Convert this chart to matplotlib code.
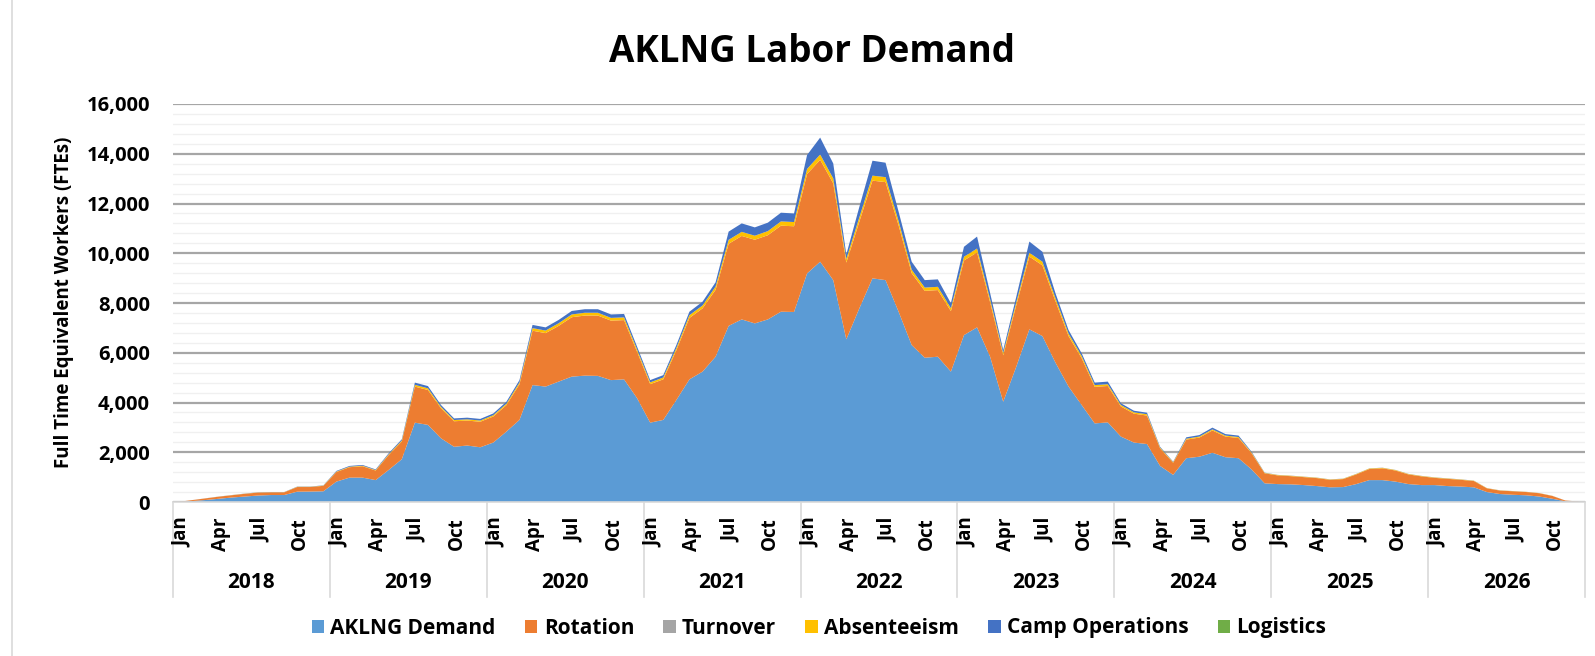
import numpy as np
import matplotlib
matplotlib.use("Agg")
import matplotlib.pyplot as plt
from matplotlib.patches import Patch
import matplotlib.transforms as mtransforms

years = ["2018", "2019", "2020", "2021", "2022", "2023", "2024", "2025", "2026"]
months = ["Jan", "Feb", "Mar", "Apr", "May", "Jun", "Jul", "Aug", "Sep", "Oct", "Nov", "Dec"]
shown_months = ["Jan", "Apr", "Jul", "Oct"]

aklng_demand = [
    5, 40, 80, 130, 180, 220, 260, 280, 280, 415, 420, 430,
    820, 980, 980, 880, 1290, 1720, 3190, 3100, 2560, 2220, 2270, 2200,
    2390, 2830, 3300, 4700, 4640, 4840, 5040, 5080, 5070, 4900, 4930, 4170,
    3190, 3300, 4100, 4930, 5240, 5840, 7080, 7340, 7180, 7340, 7650, 7640,
    9190, 9660, 8920, 6540, 7790, 8990, 8920, 7650, 6310, 5800, 5840, 5240,
    6710, 7020, 5840, 4030, 5440, 6940, 6670, 5600, 4640, 3900, 3160, 3200,
    2630, 2390, 2330, 1450, 1090, 1760, 1820, 1980, 1800, 1760, 1310, 750,
    720, 710, 680, 640, 590, 600, 720, 880, 880, 820, 720, 680,
    680, 640, 620, 590, 400, 320, 290, 270, 220, 130, 30, 10,
]
rotation = [
    5, 38, 66, 84, 92, 110, 118, 108, 108, 187, 182, 220,
    387, 419, 458, 385, 601, 713, 1450, 1402, 1208, 1026, 1004, 1026,
    1048, 1063, 1433, 2186, 2149, 2240, 2388, 2415, 2425, 2392, 2382, 1864,
    1548, 1630, 2000, 2468, 2542, 2691, 3300, 3355, 3363, 3385, 3459, 3445,
    3995, 4095, 3890, 3084, 3486, 3929, 3940, 3469, 2888, 2689, 2679, 2433,
    3000, 3013, 2187, 1870, 2469, 2926, 2842, 2467, 2029, 1882, 1470, 1464,
    1212, 1161, 1145, 707, 486, 747, 770, 896, 830, 813, 650, 403,
    349, 329, 320, 321, 302, 321, 388, 445, 475, 446, 388, 350,
    290, 291, 272, 252, 149, 140, 141, 131, 133, 114, 28, 10,
]
turnover = [0] * 108
absenteeism = [
    0, 1, 2, 3, 4, 5, 6, 6, 6, 9, 9, 10,
    18, 21, 22, 19, 29, 37, 70, 68, 57, 49, 50, 49,
    52, 59, 72, 104, 103, 107, 112, 113, 113, 110, 110, 91,
    72, 75, 92, 112, 118, 129, 160, 165, 162, 165, 171, 170,
    205, 215, 200, 146, 174, 201, 200, 171, 142, 131, 131, 117,
    150, 157, 123, 90, 121, 154, 148, 123, 101, 88, 70, 71,
    58, 54, 53, 33, 24, 38, 40, 44, 40, 39, 30, 17,
    16, 16, 15, 14, 13, 14, 17, 20, 20, 19, 17, 15,
    15, 14, 13, 13, 8, 7, 6, 6, 5, 4, 1, 0,
]
camp_operations = [
    0, 1, 2, 3, 4, 5, 6, 6, 6, 9, 9, 10,
    25, 30, 30, 26, 40, 50, 90, 90, 75, 65, 66, 65,
    70, 78, 95, 130, 128, 133, 140, 142, 142, 138, 138, 115,
    90, 95, 118, 140, 150, 170, 330, 340, 335, 340, 350, 345,
    560, 680, 600, 180, 420, 600, 580, 380, 320, 300, 300, 200,
    400, 480, 250, 120, 220, 450, 400, 200, 140, 110, 100, 105,
    70, 65, 62, 30, 20, 55, 60, 70, 60, 58, 30, 10,
    5, 5, 5, 5, 5, 5, 5, 5, 5, 5, 5, 5,
    5, 5, 5, 5, 3, 3, 3, 3, 2, 2, 1, 0,
]
logistics = [0] * 108

series_names = ["AKLNG Demand", "Rotation", "Turnover", "Absenteeism", "Camp Operations", "Logistics"]
colors = ["#5B9BD5", "#ED7D31", "#A5A5A5", "#FFC000", "#4472C4", "#70AD47"]

plt.rcParams["font.family"] = ["Open Sans", "DejaVu Sans"]
plt.rcParams["font.weight"] = "bold"

W, H = 1595, 656
fig = plt.figure(figsize=(W / 100, H / 100), dpi=100)
ax = fig.add_axes([173 / W, 1 - 502 / H, (1585 - 173) / W, (502 - 104) / H])

x = np.arange(len(aklng_demand))
ax.stackplot(x, aklng_demand, rotation, turnover, absenteeism, camp_operations, logistics,
             colors=colors, labels=series_names, linewidth=0)

ax.set_xlim(-0.5, len(x) - 0.5)
ax.set_ylim(0, 16000)
ax.set_yticks(np.arange(0, 16001, 2000))
ax.set_yticklabels([f"{v:,}" for v in range(0, 16001, 2000)], fontsize=14.5, fontweight="bold")
ax.set_yticks(np.arange(0, 16001, 400), minor=True)
ax.grid(axis="y", which="major", color="#a6a6a6", linewidth=1.6, zorder=0)
ax.grid(axis="y", which="minor", color="#f0f0f0", linewidth=1.0, zorder=0)
ax.set_axisbelow(True)
ax.tick_params(axis="y", which="both", length=0, pad=16.5)

ticks = [i for i in range(len(x)) if months[i % 12] in shown_months]
ax.set_xticks(ticks)
ax.set_xticklabels([months[i % 12] for i in ticks], rotation=90, fontsize=13.5, fontweight="bold")
ax.tick_params(axis="x", length=0, pad=11)
shift = mtransforms.ScaledTranslation(2.5 / 100, 0, fig.dpi_scale_trans)
for lab in ax.get_xticklabels():
    lab.set_transform(lab.get_transform() + shift)

for s in ["top", "right", "left"]:
    ax.spines[s].set_visible(False)
ax.spines["bottom"].set_color("#d9d9d9")
ax.spines["bottom"].set_linewidth(1.2)

trans = mtransforms.blended_transform_factory(ax.transData, ax.transAxes)
sep_bottom = -(597 - 502) / (502 - 104)
for k in range(len(years) + 1):
    ax.plot([k * 12 - 0.5, k * 12 - 0.5], [0, sep_bottom], transform=trans,
            color="#d9d9d9", linewidth=1.2, clip_on=False, zorder=0.5)
year_y = -(582 - 502) / (502 - 104)
for k, yr in enumerate(years):
    ax.text(k * 12 + 5.5, year_y, yr, transform=trans, ha="center", va="center",
            fontsize=15, fontweight="bold")

fig.text(64 / W, 1 - 302 / H, "Full Time Equivalent Workers (FTEs)", rotation=90,
         ha="center", va="center", fontsize=13.5, fontweight="bold")

fig.text(812 / W, 1 - 52 / H, "AKLNG Labor Demand", ha="center", va="center",
         fontsize=26.5, fontweight="bold")

handles = [Patch(facecolor=c, edgecolor="none") for c in colors]
fig.legend(handles, series_names, loc="center", bbox_to_anchor=(819 / W, 1 - 628 / H),
           ncol=6, frameon=False, handlelength=0.6, handleheight=0.6,
           handletextpad=0.3, columnspacing=1.4, prop={"weight": "bold", "size": 15})

fig.add_artist(plt.Line2D([12 / W, 12 / W], [0, 1], transform=fig.transFigure,
                          color="#d9d9d9", linewidth=1.2))

fig.savefig("out.png", dpi=100)
